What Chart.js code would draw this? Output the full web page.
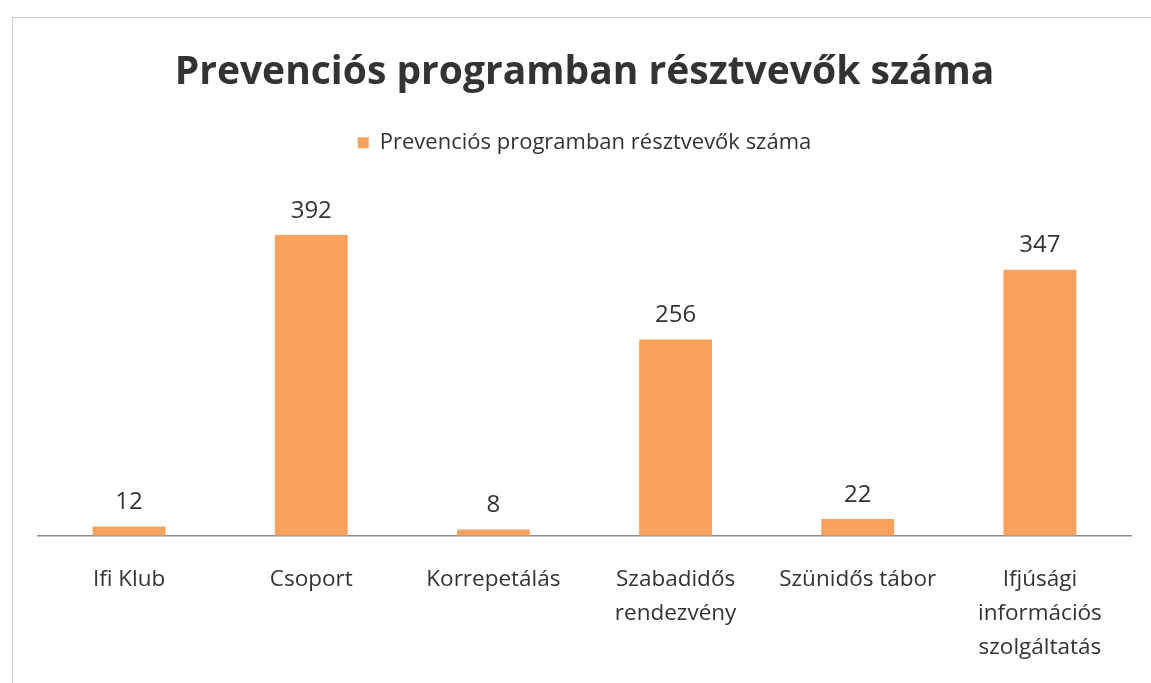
<!DOCTYPE html>
<html>
<head>
<meta charset="utf-8">
<script src="https://cdn.jsdelivr.net/npm/chart.js@4.4.1/dist/chart.umd.min.js"></script>
<style>
  html, body { margin: 0; padding: 0; background: #fff; }
  #wrap { position: relative; width: 1151px; height: 683px; }
  #frame { position: absolute; left: 12px; top: 17px; width: 1200px; height: 700px;
           border-top: 1px solid #c8c8c8; border-left: 1px solid #c8c8c8; }
  canvas { position: absolute; left: 0; top: 0; }
</style>
</head>
<body>
<div id="wrap">
  <div id="frame"></div>
  <canvas id="chart" width="1151" height="683"></canvas>
</div>
<script>
// adatok
const categories = [
  'Ifi Klub',
  'Csoport',
  'Korrepetálás',
  ['Szabadidős', 'rendezvény'],
  'Szünidős tábor',
  ['Ifjúsági', 'információs', 'szolgáltatás']
];
const participants = [12, 392, 8, 256, 22, 347];
const seriesName = 'Prevenciós programban résztvevők száma';
const chartTitle = 'Prevenciós programban résztvevők száma';

const FONT = "'Open Sans', 'Noto Sans', sans-serif";
const BAR_COLOR = '#F8A15D';

// értékcímkék a hasábok fölött
const valueLabels = {
  id: 'valueLabels',
  afterDatasetsDraw(chart) {
    const ctx = chart.ctx;
    const meta = chart.getDatasetMeta(0);
    ctx.save();
    ctx.font = `24px ${FONT}`;
    ctx.fillStyle = '#333';
    ctx.textAlign = 'center';
    ctx.textBaseline = 'bottom';
    meta.data.forEach((bar, i) => {
      ctx.fillText(String(participants[i]), bar.x, bar.y - 12);
    });
    ctx.restore();
  }
};

new Chart(document.getElementById('chart'), {
  type: 'bar',
  plugins: [valueLabels],
  data: {
    labels: categories,
    datasets: [{
      label: seriesName,
      data: participants,
      backgroundColor: BAR_COLOR,
      borderWidth: 0,
      barPercentage: 0.4,
      categoryPercentage: 1
    }]
  },
  options: {
    responsive: false,
    animation: false,
    layout: { padding: { left: 38, right: 20, top: 49, bottom: 0 } },
    plugins: {
      title: {
        display: true,
        text: chartTitle,
        color: '#333',
        font: { family: FONT, size: 39, weight: 'bold' },
        padding: { top: 0, bottom: 26 }
      },
      legend: {
        position: 'top',
        labels: {
          color: '#333',
          font: { family: FONT, size: 22 },
          boxWidth: 11,
          boxHeight: 11,
          padding: 10
        }
      },
      tooltip: { enabled: false }
    },
    scales: {
      x: {
        grid: { display: false },
        border: { color: '#8c8c8c', width: 1.5 },
        ticks: {
          color: '#333',
          font: { family: FONT, size: 22.5, lineHeight: 1.5 },
          padding: 19,
          maxRotation: 0,
          autoSkip: false
        }
      },
      y: {
        display: false,
        min: 0,
        max: 485
      }
    }
  }
});
</script>
</body>
</html>
